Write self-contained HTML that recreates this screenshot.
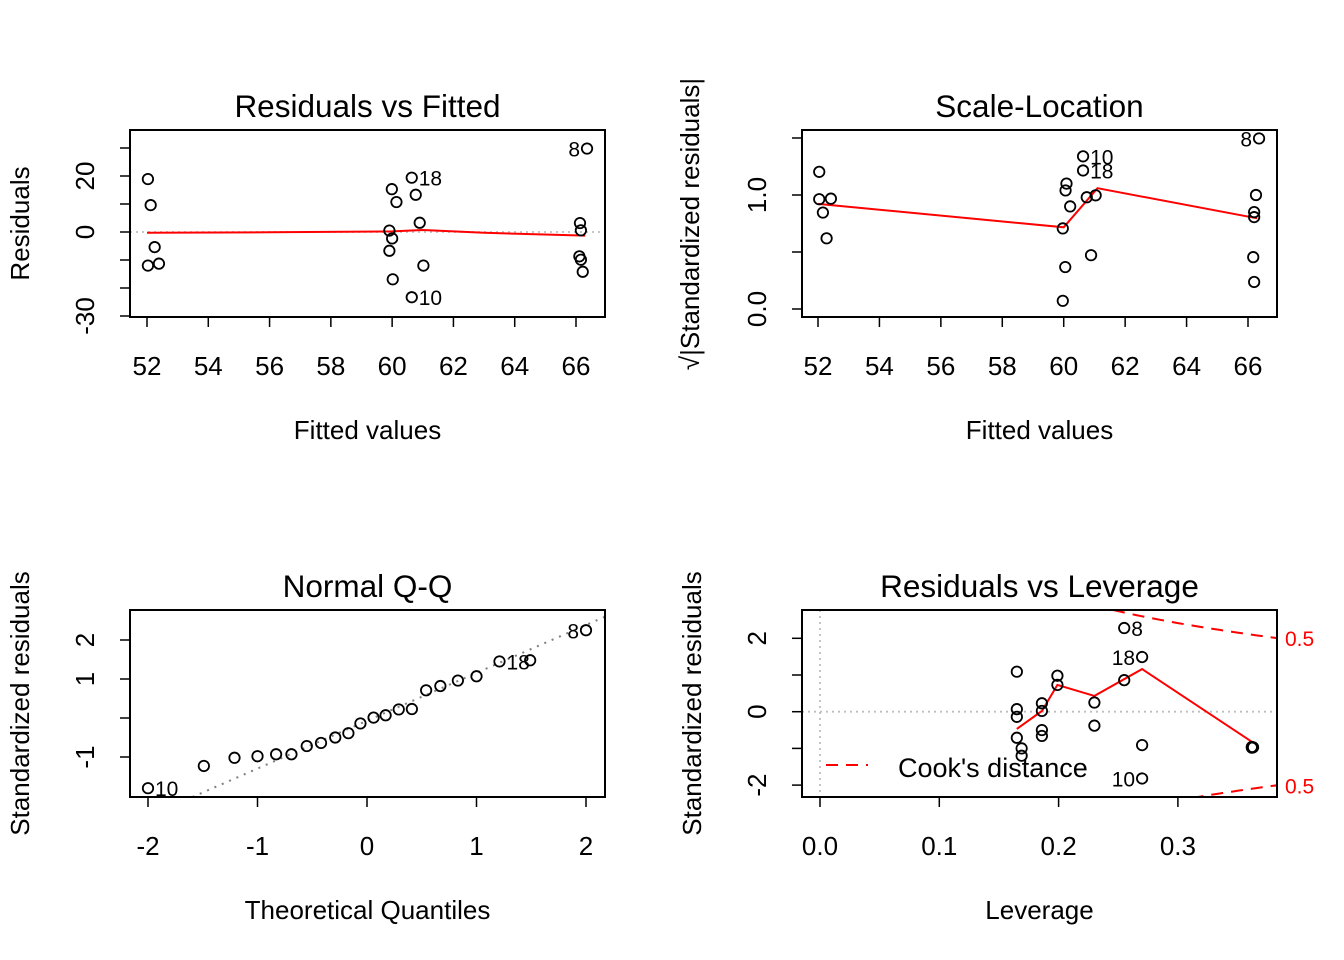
<!DOCTYPE html>
<html><head><meta charset="utf-8">
<style>
html,body{margin:0;padding:0;background:#fff;}
svg{display:block;font-family:"Liberation Sans",Arial,sans-serif;}
</style></head>
<body>
<svg id="chart" width="1344" height="960" viewBox="0 0 1344 960" xmlns="http://www.w3.org/2000/svg">
<rect width="1344" height="960" fill="#fff"/>
</svg>
<script>
// ---------- Panel 1: Residuals vs Fitted ----------
const rvfFitted = [52.03,52.12,52.25,52.03,52.39,59.99,60.14,60.64,60.77,60.90,59.91,60.00,59.91,61.02,60.02,60.64,66.36,66.13,66.16,66.11,66.16,66.22];
const rvfResid  = [18.9,9.6,-5.4,-12.0,-11.3,15.3,10.7,19.4,13.3,3.3,0.5,-2.3,-6.7,-12.0,-16.9,-23.3,29.8,3.2,0.6,-8.7,-9.9,-14.2];
const rvfLabels = ["","","","","","","","18","","","","","","","","10","8","","","","",""];
const rvfSmoothX = [52.0,56.0,60.0,61.0,63.0,66.3];
const rvfSmoothY = [-0.3,-0.1,0.2,0.7,-0.3,-1.3];
const rvfXTicks = [52,54,56,58,60,62,64,66];
const rvfYTicks = [-30,-20,-10,0,10,20,30];
const rvfYLabels = ["-30","","","0","","20",""];

// ---------- Panel 2: Scale-Location ----------
const slFitted = [52.04,52.04,52.42,52.16,52.28,60.09,60.06,60.21,59.97,60.05,59.97,60.63,60.63,60.75,61.04,60.89,66.36,66.26,66.20,66.20,66.17,66.20];
const slSqrt   = [1.203,0.963,0.968,0.846,0.620,1.10,1.04,0.90,0.707,0.368,0.072,1.339,1.215,0.98,0.997,0.472,1.496,1.0,0.85,0.806,0.455,0.237];
const slLabels = ["","","","","","","","","","","","10","18","","","","8","","","","",""];
const slSmoothX = [52.0,60.0,61.1,66.3];
const slSmoothY = [0.922,0.717,1.06,0.796];
const slXTicks = [52,54,56,58,60,62,64,66];
const slYTicks = [0,0.5,1.0,1.5];
const slYLabels = ["0.0","","1.0",""];

// ---------- Panel 3: Normal Q-Q ----------
const qqTheo = [-2.0,-1.49,-1.21,-1.0,-0.83,-0.69,-0.55,-0.42,-0.29,-0.17,-0.06,0.06,0.17,0.29,0.41,0.54,0.67,0.83,1.0,1.21,1.49,2.0];
const qqStd  = [-1.80,-1.23,-1.02,-0.98,-0.93,-0.93,-0.72,-0.64,-0.50,-0.39,-0.14,0.01,0.07,0.22,0.23,0.71,0.82,0.96,1.07,1.45,1.48,2.25];
const qqLabels = ["10","","","","","","","","","","","","","","","","","","","18","","8"];
const qqLine = [-0.07,1.227]; // intercept, slope
const qqXTicks = [-2,-1,0,1,2];
const qqYTicks = [-1,0,1,2];
const qqYLabels = ["-1","","1","2"];

// ---------- Panel 4: Residuals vs Leverage ----------
const rlLev = [0.165,0.165,0.165,0.165,0.169,0.169,0.186,0.186,0.186,0.186,0.199,0.199,0.230,0.230,0.255,0.255,0.270,0.270,0.270,0.362,0.362,0.363];
const rlStd = [1.09,0.07,-0.14,-0.71,-1.0,-1.2,0.23,0.02,-0.5,-0.66,0.98,0.73,0.25,-0.38,2.28,0.86,1.49,-0.91,-1.82,-0.96,-0.98,-0.97];
const rlLabels = ["","","","","","","","","","","","","","","8","","18","","10","","",""];
const rlSmoothX = [0.165,0.186,0.199,0.230,0.270,0.362];
const rlSmoothY = [-0.47,0.02,0.73,0.43,1.16,-0.82];
const rlCookLevel = [0.5];
const rlNumParams = [5];
const rlXTicks = [0.0,0.1,0.2,0.3];
const rlXLabels = ["0.0","0.1","0.2","0.3"];
const rlYTicks = [-2,-1,0,1,2];
const rlYLabels = ["-2","","0","","2"];

const NS = "http://www.w3.org/2000/svg";
const svg = document.getElementById("chart");
function el(tag, attrs, parent, text){
  const e = document.createElementNS(NS, tag);
  for (const k in attrs) e.setAttribute(k, attrs[k]);
  if (text !== undefined) e.textContent = text;
  (parent||svg).appendChild(e);
  return e;
}
function scale(d0,d1,p0,p1){ return v => p0 + (v-d0)*(p1-p0)/(d1-d0); }

function panel(o){
  const g = el("g",{});
  
  
  const X = o.X, Y = o.Y, b = o.box;
  const t = el("text",{x:(b.l+b.r)/2,y:b.t-13,"text-anchor":"middle","font-size":"31.5"},g,o.title);
  
  
  const xa = el("g",{},g);
  
  
  o.xTicks.forEach((v,i)=>{
    const px = X(v);
    el("line",{x1:px,x2:px,y1:b.b,y2:b.b+10,stroke:"#000","stroke-width":1.5},xa);
    const tl = el("text",{x:px,y:b.b+58,"text-anchor":"middle","font-size":"26"},xa,o.xLabels?o.xLabels[i]:String(v));
    
    
  });
  const xt = el("text",{x:(b.l+b.r)/2,y:b.b+122,"text-anchor":"middle","font-size":"26"},g,o.xTitle);
  
  
  const ya = el("g",{},g);
  
  
  o.yTicks.forEach((v,i)=>{
    const py = Y(v);
    el("line",{x1:b.l-10,x2:b.l,y1:py,y2:py,stroke:"#000","stroke-width":1.5},ya);
    if (o.yLabels[i]) {
      const lx = b.l-45;
      const tl = el("text",{x:lx,y:py,"text-anchor":"middle","font-size":"26",transform:`rotate(-90 ${lx} ${py})`,dy:"9"},ya,o.yLabels[i]);
      
      
    }
  });
  const yx = b.l-110, yy = (b.t+b.b)/2;
  const yt = el("text",{x:yx,y:yy,"text-anchor":"middle","font-size":"26",transform:`rotate(-90 ${yx} ${yy})`,dy:"9"},g,o.yTitle);
  
  
  const cid = "clip-"+o.name;
  const cp = el("clipPath",{id:cid},g);
  el("rect",{x:b.l,y:b.t,width:b.r-b.l,height:b.b-b.t},cp);
  const inner = el("g",{"clip-path":`url(#${cid})`},g);
  if (o.extras) o.extras(inner,X,Y,b);
  if (o.sx){
    const d = o.sx.map((v,i)=>(i?"L":"M")+X(v).toFixed(1)+","+Y(o.sy[i]).toFixed(1)).join(" ");
    const sl = el("path",{d:d,fill:"none",stroke:"#ff0000","stroke-width":2},inner);
    
    
  }
  const pg = el("g",{},g);
  
  
  o.xs.forEach((v,i)=>{
    const c = el("circle",{cx:X(v),cy:Y(o.ys[i]),r:5.2,fill:"none",stroke:"#000","stroke-width":1.8},pg);
    
    
    const lab = o.labels[i];
    if (lab){
      const side = o.labelSide(lab);
      const lx = X(v) + (side==="r"?7:-7);
      const lt = el("text",{x:lx,y:Y(o.ys[i])+8,"text-anchor":side==="r"?"start":"end","font-size":"21"},pg,lab);
      
      
    }
  });
  el("rect",{x:b.l,y:b.t,width:b.r-b.l,height:b.b-b.t,fill:"none",stroke:"#000","stroke-width":2},g);
  return g;
}

{
  const box={l:130,r:605,t:130,b:317};
  const X=scale(52,66,147,576), Y=scale(0,20,232,176);
  panel({name:"residuals-vs-fitted-panel",title:"Residuals vs Fitted",xTitle:"Fitted values",yTitle:"Residuals",
    box,X,Y,xTicks:rvfXTicks,yTicks:rvfYTicks,yLabels:rvfYLabels,xs:rvfFitted,ys:rvfResid,labels:rvfLabels,
    sx:rvfSmoothX,sy:rvfSmoothY,labelSide:l=>l==="8"?"l":"r",
    extras:(g,X,Y,b)=>{ el("line",{x1:b.l,x2:b.r,y1:Y(0),y2:Y(0),stroke:"#bebebe","stroke-width":1.8,"stroke-dasharray":"2,4"},g); }});
}
{
  const box={l:802,r:1277,t:130,b:317};
  const X=scale(52,66,818,1248), Y=scale(0,1,309,195);
  const g = panel({name:"scale-location-panel",title:"Scale-Location",xTitle:"Fitted values",yTitle:"",
    box,X,Y,xTicks:slXTicks,yTicks:slYTicks,yLabels:slYLabels,xs:slFitted,ys:slSqrt,labels:slLabels,
    sx:slSmoothX,sy:slSmoothY,labelSide:l=>l==="8"?"l":"r"});
  const lx=699, ly=224;
  const yt = el("text",{x:lx,y:ly,"text-anchor":"middle","font-size":"26",transform:`rotate(-90 ${lx} ${ly})`},g,"√|Standardized residuals|");
  
  
}
{
  const box={l:130,r:605,t:610,b:797};
  const X=scale(-2,2,148,586), Y=scale(0,1,718,679);
  panel({name:"normal-qq-panel",title:"Normal Q-Q",xTitle:"Theoretical Quantiles",yTitle:"Standardized residuals",
    box,X,Y,xTicks:qqXTicks,yTicks:qqYTicks,yLabels:qqYLabels,xs:qqTheo,ys:qqStd,labels:qqLabels,
    labelSide:l=>l==="8"?"l":"r",
    extras:(g,X,Y,b)=>{
      const l = el("line",{x1:X(-3),y1:Y(qqLine[0]+qqLine[1]*-3),x2:X(3),y2:Y(qqLine[0]+qqLine[1]*3),stroke:"#7f7f7f","stroke-width":2,"stroke-dasharray":"2,6"},g);
      
      
    }});
}
{
  const box={l:802,r:1277,t:610,b:797};
  const X=scale(0,0.1,820,939.3), Y=scale(0,1,711.7,675);
  const g = panel({name:"residuals-vs-leverage-panel",title:"Residuals vs Leverage",xTitle:"Leverage",yTitle:"Standardized residuals",
    box,X,Y,xTicks:rlXTicks,xLabels:rlXLabels,yTicks:rlYTicks,yLabels:rlYLabels,xs:rlLev,ys:rlStd,labels:rlLabels,
    sx:rlSmoothX,sy:rlSmoothY,labelSide:l=>l==="8"?"r":"l",
    extras:(g,X,Y,b)=>{
      el("line",{x1:b.l,x2:b.r,y1:Y(0),y2:Y(0),stroke:"#bebebe","stroke-width":1.8,"stroke-dasharray":"2,4"},g);
      el("line",{x1:X(0),x2:X(0),y1:b.t,y2:b.b,stroke:"#bebebe","stroke-width":1.8,"stroke-dasharray":"2,4"},g);
      const p = rlNumParams[0], lev = rlCookLevel[0];
      [1,-1].forEach(sgn=>{
        let d="";
        for (let h=0.15;h<=0.40;h+=0.005){
          const r = sgn*Math.sqrt(lev*p*(1-h)/h);
          d += (d?"L":"M")+X(h).toFixed(1)+","+Y(r).toFixed(1)+" ";
        }
        const c = el("path",{d:d,fill:"none",stroke:"#ff0000","stroke-width":2,"stroke-dasharray":"12,8"},g);
        
        
      });
    }});
  const hEnd = 0.383;
  const p = rlNumParams[0], lev = rlCookLevel[0];
  [1,-1].forEach(sgn=>{
    const r = sgn*Math.sqrt(lev*p*(1-hEnd)/hEnd);
    const t = el("text",{x:1285,y:Y(r)+8,"font-size":"21",fill:"#ff0000"},g,String(lev));
    
    
  });
  const lg = el("g",{},g);
  
  
  el("line",{x1:826,x2:868,y1:765,y2:765,stroke:"#ff0000","stroke-width":2,"stroke-dasharray":"12,8"},lg);
  const lt = el("text",{x:898,y:777,"font-size":"27"},lg,"Cook's distance");
  
  
}
</script>
</body></html>
